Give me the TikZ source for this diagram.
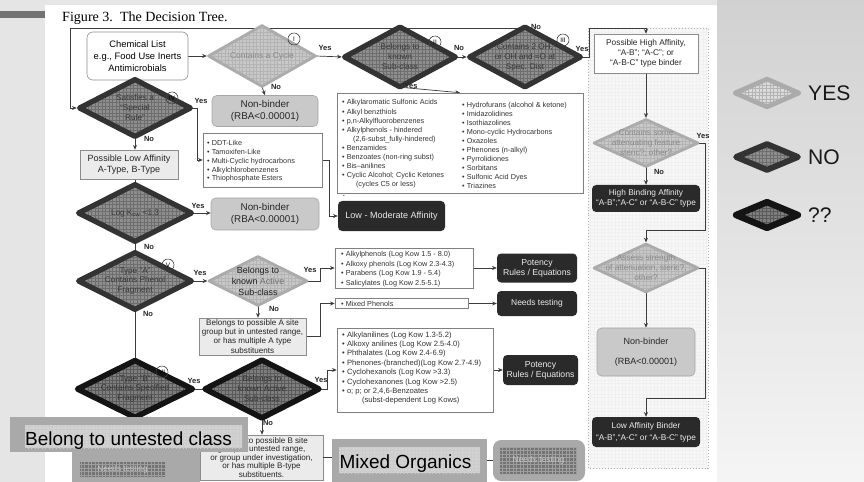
\documentclass[tikz,border=0pt]{standalone}
\usepackage{fontspec}
\setmainfont{Liberation Sans}
\newfontfamily\titlefont{Liberation Serif}
\usetikzlibrary{shapes.geometric,arrows.meta,patterns}
\pgfdeclarelayer{bg}
\pgfdeclarelayer{wires}
\pgfsetlayers{bg,wires,main}

\newcommand{\setfs}[2]{\fontsize{#1pt}{#2pt}\selectfont}

\definecolor{ylfill}{HTML}{C8C8C8}
\definecolor{ylgrid}{HTML}{B4B4B4}
\definecolor{ylrim}{HTML}{ABABAB}
\definecolor{nofill}{HTML}{8E8E8E}
\definecolor{nogrid}{HTML}{6E6E6E}
\definecolor{norim}{HTML}{333333}
\definecolor{qfill}{HTML}{7E7E7E}
\definecolor{qgrid}{HTML}{5A5A5A}
\definecolor{qrim}{HTML}{141414}
\definecolor{inkdark}{HTML}{2A2A2A}
\definecolor{wire}{HTML}{3C3C3C}
\definecolor{nbfill}{HTML}{C9C9C9}
\definecolor{tabgray}{HTML}{A9A9A9}
\definecolor{tabinner}{HTML}{D2D2D2}
\definecolor{softink}{HTML}{8A8A8A}

\tikzset{
  px/.style 2 args={minimum width=#1*0.03cm, minimum height=#2*0.03cm},
  yesdia/.style={diamond, inner sep=0pt, fill=ylfill,
     postaction={pattern=grid, pattern color=ylgrid},
     postaction={draw=ylrim, line width=#1, line join=round}},
  yesdia/.default={2.4pt},
  nodia/.style={diamond, inner sep=0pt, fill=nofill,
     postaction={pattern=grid, pattern color=nogrid},
     postaction={draw=norim, line width=#1, line join=round}},
  nodia/.default={4.5pt},
  qdia/.style={diamond, inner sep=0pt, fill=qfill,
     postaction={pattern=grid, pattern color=qgrid},
     postaction={draw=qrim, line width=#1, line join=round}},
  qdia/.default={4.8pt},
  dtxt/.style={align=center, inner sep=0pt, text=black!78, font=\setfs{7}{8.5}},
  softtxt/.style={dtxt, text=softink},
  listbox/.style={draw=black!50, line width=0.5pt, fill=white, inner sep=0pt},
  listtxt/.style={align=left, inner sep=0pt, text=black!80, anchor=north west},
  graybox/.style={draw=black!35, line width=0.5pt, fill=nbfill, rounded corners=4pt,
     inner sep=0pt, align=center, text=black!85, font=\setfs{8.4}{9.8}},
  blackbox/.style={fill=inkdark, rounded corners=3.5pt, inner sep=0pt, align=center,
     text=black!8, font=\setfs{7.4}{8.6}},
  lightbox/.style={draw=black!45, line width=0.5pt, fill=black!8, inner sep=0pt,
     align=center, text=black!85},
  numc/.style={circle, draw=black!75, line width=0.5pt, inner sep=0pt,
     minimum size=12*0.03cm, font=\setfs{5.5}{6}},
  yn/.style={inner sep=0pt, font=\bfseries\setfs{6.4}{7}, text=black!85},
  wireline/.style={draw=wire, line width=0.6pt},
  arrow/.style={wireline, -{Stealth[length=4pt, width=3.4pt]}},
  legtxt/.style={anchor=west, inner sep=0pt, font=\setfs{18}{20}, text=black!90},
}

\begin{document}
\begin{tikzpicture}[x=0.03cm, y=-0.03cm]
\useasboundingbox (0,0) rectangle (864,482);

% ---------- slide background ----------
\begin{pgfonlayer}{bg}
  \fill[black!10] (0,0) rectangle (864,482);
  \shade[top color=black!18, bottom color=black!4] (717,0) rectangle (864,482);
  \fill[white] (45,5) rectangle (717,482);
  \fill[black!55] (0,11) rectangle (45,18);
  % right-hand panel
  \fill[black!3] (588,28) rectangle (708,468);
  \fill[pattern=grid, pattern color=black!6] (588,28) rectangle (708,468);
  \draw[black!30, dotted, line width=0.5pt] (588,28) rectangle (708,468);
\end{pgfonlayer}

% ---------- title ----------
\node[anchor=base west, inner sep=0pt, font=\titlefont\setfs{12}{14}] (title) at (62,22)
  {Figure 3.\ \ The Decision Tree.};

% ---------- top row ----------
\node[draw=black!45, line width=0.5pt, fill=white, rounded corners=5pt, inner sep=0pt,
      align=center, px={101}{48}, font=\setfs{8}{10.4}] (chem) at (137.5,56)
  {Chemical List\\e.g., Food Use Inerts\\Antimicrobials};

\node[yesdia, px={107}{61}] (d1) at (262,56) {};
\node[softtxt, font=\setfs{7.2}{8.6}] (d1t) at (d1) {Contains a Cycle};
\node[numc] (c1) at (294,39) {I};

\node[nodia, px={111}{60}] (d2) at (400,57) {};
\node[dtxt] (d2t) at (d2) {Belongs to\\known\\Sub-class};
\node[numc] (c2) at (435,42) {II};

\node[nodia, px={111}{60}] (d3) at (525,57) {};
\node[dtxt] (d3t) at (d3) {Contains 2 OH,\\or OH and =O at\\Spec. Dist};
\node[numc] (c3) at (563,40) {III};

\node[graybox, px={106}{31}] (nb1) at (265,111) {Non-binder\\(RBA<0.00001)};

\node[listbox, px={246}{100}] (list1) at (460,143) {};
\node[listtxt, font=\setfs{6.2}{7.7}] (list1a) at (342,99.5)
  {• Alkylaromatic Sulfonic Acids\\
   • Alkyl benzthiols\\
   • p,n-Alkylfluorobenzenes\\
   • Alkylphenols - hindered\\
   \hspace*{1.5em}(2,6-subst\_fully-hindered)\\
   • Benzamides\\
   • Benzoates (non-ring subst)\\
   • Bis–anilines\\
   • Cyclic Alcohol; Cyclic Ketones\\
   \hspace*{1.9em}(cycles C5 or less)};
\node[listtxt, font=\setfs{6.2}{7.7}] (list1b) at (462,102.3)
  {• Hydrofurans (alcohol \& ketone)\\
   • Imidazolidines\\
   • Isothiazolines\\
   • Mono-cyclic Hydrocarbons\\
   • Oxazoles\\
   • Phenones (n-alkyl)\\
   • Pyrrolidiones\\
   • Sorbitans\\
   • Sulfonic Acid Dyes\\
   • Triazines};
\node[inner sep=0pt, font=\setfs{4}{4}, text=black!70] (stray) at (344,196) {•};

% ---------- special rule / low affinity ----------
\node[nodia, px={111}{57}] (d4) at (135,108) {};
\node[dtxt] (d4t) at (d4) {Satisfies a\\“Special\\Rule”};
\node[numc] (c4) at (172,98) {IV};

\node[listbox, px={119}{54}] (ddt) at (262.5,160) {};
\node[listtxt, font=\setfs{6.2}{7.6}] (ddtt) at (207,139.8)
  {• DDT-Like\\
   • Tamoxifen-Like\\
   • Multi-Cyclic hydrocarbons\\
   • Alkylchlorobenzenes\\
   • Thiophosphate Esters};

\node[lightbox, px={98}{29}, font=\setfs{7.7}{9}] (lowaff) at (129,164.5)
  {Possible Low Affinity\\A-Type, B-Type};

\node[nodia, px={113}{57}] (d5) at (135,213) {};
\node[dtxt] (d5t) at (d5) {Log K$_{\mathrm{ow}}$ <1.3};

\node[graybox, px={108}{32}] (nb2) at (265,214) {Non-binder\\(RBA<0.00001)};
\node[blackbox, px={107}{30}, font=\setfs{7.7}{9}] (lowmod) at (391.5,216)
  {Low - Moderate Affinity};

% ---------- type A ----------
\node[nodia, px={113}{57}] (d6) at (135,281) {};
\node[dtxt] (d6t) at (d6) {Type “A”\\Contains Phenol\\Fragment};
\node[numc] (c6) at (168,265) {V};

\node[yesdia, px={98}{49}] (d7) at (258,281) {};
\node[dtxt, text=black!88, font=\setfs{7.6}{9.3}] (d7t) at (d7)
  {Belongs to\\known \textcolor{black!55}{Active}\\Sub-class};

\node[listbox, px={138}{40}] (alkph) at (404,268) {};
\node[listtxt, font=\setfs{6.2}{8}] (alkpht) at (341,251.5)
  {• Alkylphenols (Log Kow 1.5 - 8.0)\\
   • Alkoxy phenols (Log Kow 2.3-4.3)\\
   • Parabens (Log Kow 1.9 - 5.4)\\
   • Salicylates (Log Kow 2.5-5.1)};
\node[blackbox, px={80}{29}] (pot1) at (537,268) {Potency\\Rules / Equations};

\node[listbox, px={133}{10}] (mixph) at (401.5,303.5) {};
\node[listtxt, anchor=west, font=\setfs{6.2}{7}] (mixpht) at (341,303.8) {• Mixed Phenols};
\node[blackbox, px={80}{25}, font=\setfs{7.2}{8}] (nt1) at (537,303.5) {Needs testing};

\node[lightbox, px={107}{37}, font=\setfs{6.9}{7.8}] (asite) at (252.5,336.5)
  {Belongs to possible A site\\group but in untested range,\\or has multiple A type\\substituents};

% ---------- type B ----------
\node[qdia, px={115}{57}] (d8) at (135,389) {};
\node[dtxt, text=black!80] (d8t) at (d8) {Type “B”\\Contains Specified\\Fragment};
\node[numc] (c8) at (162,372) {VI};

\node[qdia, px={114}{58}] (d9) at (262,389) {};
\node[dtxt, text=black!80] (d9t) at (d9) {Belongs to\\known Active\\Sub-class};

\node[listbox, px={156}{84}] (anil) at (415,370) {};
\node[listtxt, font=\setfs{6.5}{8}] (anilt) at (342,331.5)
  {• Alkylanilines (Log Kow 1.3-5.2)\\
   • Alkoxy anilines (Log Kow 2.5-4.0)\\
   • Phthalates (Log Kow 2.4-6.9)\\
   • Phenones-(branched)(Log Kow 2.7-4.9)\\
   • Cyclohexanols (Log Kow >3.3)\\
   • Cyclohexanones (Log Kow >2.5)\\
   • o; p; or 2,4,6-Benzoates\\
   \hspace*{2.6em}(subst-dependent Log Kows)};
\node[blackbox, px={75}{30}] (pot2) at (540.5,370) {Potency\\Rules / Equations};

\node[lightbox, px={123}{45}, font=\setfs{6.9}{7.3}] (bsite) at (261.5,457.5)
  {Belongs to possible B site\\group in untested range,\\or group under investigation,\\or has multiple B-type\\substituents.};

% ---------- right-hand column ----------
\node[draw=black!45, line width=0.5pt, fill=white, inner sep=0pt, align=center,
      px={104}{39}, font=\setfs{7.1}{8.6}, text=black!85] (hib) at (646,53.5)
  {Possible High Affinity,\\“A-B”; “A-C”; or\\“A-B-C” type binder};

\node[yesdia, px={104}{47}] (d10) at (646,143) {};
\node[softtxt] (d10t) at (d10) {Contains some\\attenuating feature\\steric?; other?};

\node[blackbox, px={108}{27}, font=\setfs{7.1}{8.6}] (hba) at (646,198.5)
  {High Binding Affinity\\“A-B”;“A-C” or “A-B-C” type};

\node[yesdia, px={104}{48}] (d11) at (646,268) {};
\node[softtxt] (d11t) at (d11) {Assess strength\\of attenuation, steric?,\\other?};

\node[graybox, px={98}{48}, font=\setfs{7.7}{9.3}] (nb3) at (646,352)
  {Non-binder\\[8pt](RBA<0.00001)};

\node[blackbox, px={108}{30}, font=\setfs{7.1}{10.4}] (lab) at (646,432)
  {Low Affinity Binder\\“A-B”,“A-C” or “A-B-C” type};

% ---------- decision labels ----------
\node[yn] (y1) at (325,48) {Yes};
\node[yn] (n1) at (276,87) {No};
\node[yn] (n2) at (459,48) {No};
\node[yn] (y2) at (411,86) {Yes};
\node[yn] (n3) at (536,27) {No};
\node[yn] (y3) at (582,49) {Yes};
\node[yn] (y4) at (201,101) {Yes};
\node[yn] (n4) at (149,139) {No};
\node[yn] (y5) at (198,206) {Yes};
\node[yn] (n5) at (149,247) {No};
\node[yn] (y6) at (200,273) {Yes};
\node[yn] (y7) at (310,270) {Yes};
\node[yn] (n7) at (274,309) {No};
\node[yn] (n6) at (148,314) {No};
\node[yn] (y8) at (194,381) {Yes};
\node[yn] (y9) at (321,380) {Yes};
\node[yn] (n9) at (268,423) {No};
\node[yn] (n8) at (151,420) {No};
\node[yn] (n10) at (659,172) {No};
\node[yn] (y10) at (703,136) {Yes};

% ---------- connectors ----------
\coordinate (loopcorner) at (70,28);
\coordinate (hibturn) at (589,28);
\coordinate (ddtturn) at (197,108);
\coordinate (lmturn) at (329,160);
\coordinate (akturn) at (320,281);
\coordinate (mpturn) at (320,336.5);
\coordinate (anturn) at (327,389);
\coordinate (d8end) at (135,430);
\coordinate (r1b) at (705,230);
\coordinate (r2b) at (705,398);

\begin{pgfonlayer}{wires}
  \draw[arrow, shorten >=1.2pt] (chem.east) -- (d1.west);
  \draw[arrow, shorten >=2.2pt] (d1.east) -- (d2.west);
  \draw[arrow, shorten >=2.2pt] (d2.east) -- (d3.west);
  \draw[arrow] (d1.south) -- (nb1.north);
  \draw[arrow] (d2.south) -- (list1.north);
  \draw[arrow, shorten >=2.2pt] (d3.north) |- (loopcorner) |- (d4.west);
  \draw[arrow] (d3.east) -| (hibturn) -| (hib.north);

  \draw[arrow] (d4.east) -- (ddtturn) |- (ddt.west);
  \draw[arrow] (d4.south) -- (d4.south |- lowaff.north);
  \draw[wireline] (d5.north |- lowaff.south) -- (d5.north);
  \draw[arrow] (ddt.east) -- (lmturn) |- (lowmod.west);
  \draw[arrow] (d5.east) -- (d5.east -| nb2.west);
  \draw[wireline] (d5.south) -- (d6.north);

  \draw[arrow, shorten >=1.2pt] (d6.east) -- (d7.west);
  \draw[arrow] (d7.east) -- (akturn) |- (alkph.west);
  \draw[arrow] (alkph.east) -- (pot1.west);
  \draw[arrow] (d7.south) -- (d7.south |- asite.north);
  \draw[arrow] (asite.east) -- (mpturn) |- (mixph.west);
  \draw[arrow] (mixph.east) -- (nt1.west);
  \draw[wireline] (d6.south) -- (d8.north);

  \draw[wireline] (d8.east) -- (d9.west);
  \draw[arrow] (d9.east) -- (anturn) |- (anil.west);
  \draw[arrow] (anil.east) -- (pot2.west);
  \draw[arrow] (d9.south) -- (d9.south |- bsite.north);
  \draw[wireline] (d8.south) -- (d8end);

  \draw[arrow, shorten >=1.2pt] (hib.south) -- (d10.north);
  \draw[arrow] (d10.south) -- (hba.north);
  \draw[arrow, shorten >=1.2pt] (d10.east) -| (r1b) -| (d11.north);
  \draw[arrow] (d11.south) -- (nb3.north);
  \draw[arrow] (d11.east) -| (r2b) -| (lab.north);
\end{pgfonlayer}

% ---------- legend ----------
\node[yesdia=4pt, fill=black!14, px={64}{28}] (legy) at (767,93) {};
\node[legtxt] (legyt) at (808,93) {YES};
\node[nodia=5pt, px={62}{26}] (legn) at (767,157) {};
\node[legtxt] (legnt) at (808,157) {NO};
\node[qdia=5.5pt, px={62}{26}] (legq) at (767,215) {};
\node[legtxt] (legqt) at (808,215) {??};

% ---------- overlaid call-outs ----------
\node[fill=tabgray, inner sep=0pt, px={128}{30}] (ntab) at (136,467) {};
\node[fill=black!55, postaction={pattern=grid, pattern color=black!38}, inner sep=0pt,
      px={85}{15}, text=black!22, font=\setfs{7}{8}] (nt2) at (122.5,469.5) {Needs testing};

\node[fill=tabgray, inner sep=0pt, px={238}{35}] (unt) at (129,434.5) {};
\node[fill=tabinner, postaction={pattern=grid, pattern color=black!20}, inner sep=0pt,
      px={217}{23}] (untin) at (133.5,436.5) {};
\node[anchor=base, inner sep=0pt, font=\setfs{16.2}{18}] (untt) at (128.5,445)
  {Belong to untested class};

\node[fill=tabgray, inner sep=0pt, px={155}{43}] (mixorg) at (409.5,460.5) {};
\node[fill=tabinner, postaction={pattern=grid, pattern color=black!20}, inner sep=0pt,
      px={141}{26}] (mixin) at (409.5,460) {};
\node[anchor=base, inner sep=0pt, font=\setfs{16.2}{18}] (mixt) at (405.5,468.3)
  {Mixed Organics};

\node[fill=tabgray, rounded corners=7pt, inner sep=0pt, px={92}{41}] (nt3) at (539,460.5) {};
\node[fill=black!55, postaction={pattern=grid, pattern color=black!38}, inner sep=0pt,
      px={77}{27}, text=black!22, font=\setfs{7.2}{8}] (nt3in) at (538.5,460.5) {Needs testing};

\draw[wireline] (bsite.east) -- (bsite.east -| mixorg.west);
\draw[wireline] (mixorg.east) -- (nt3.west);
\end{tikzpicture}
\end{document}
